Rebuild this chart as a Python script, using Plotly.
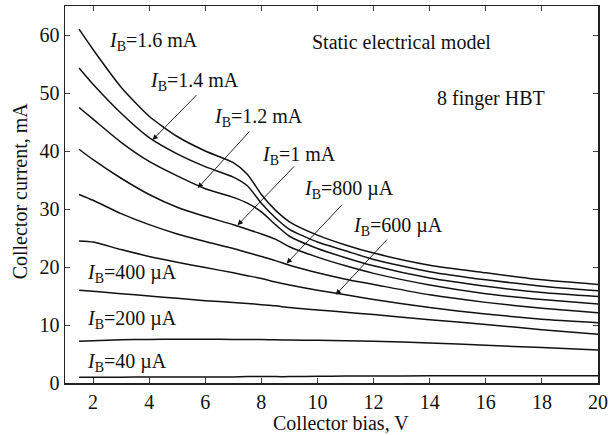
import plotly.graph_objects as go

# ---- data ----
vce = [1.5, 2, 3, 4, 5, 6, 7, 7.5, 8, 8.5, 9, 10, 11, 12, 14, 16, 18, 20]

ic_1600 = [61.0, 57.5, 51.0, 46.0, 42.5, 40.0, 38.0, 36.0, 32.5, 29.8, 27.8, 25.5, 23.8, 22.4, 20.3, 19.0, 17.8, 17.0]
ic_1400 = [54.3, 51.5, 46.5, 42.3, 39.5, 37.3, 35.5, 34.0, 31.0, 28.5, 26.5, 24.3, 22.8, 21.3, 19.2, 17.8, 16.7, 15.9]
ic_1200 = [47.5, 45.5, 41.5, 38.2, 35.7, 33.5, 32.0, 31.0, 29.5, 27.3, 25.3, 23.2, 21.6, 20.2, 18.1, 16.7, 15.6, 14.9]
ic_1000 = [40.3, 38.5, 35.3, 32.5, 30.3, 28.7, 27.3, 26.5, 25.7, 24.8, 23.5, 21.7, 20.2, 18.9, 16.9, 15.4, 14.4, 13.6]
ic_800 = [32.5, 31.5, 29.2, 27.3, 25.7, 24.4, 23.2, 22.5, 21.8, 21.1, 20.3, 19.0, 17.9, 17.0, 15.2, 13.9, 12.9, 12.1]
ic_600 = [24.5, 24.3, 23.0, 21.8, 20.8, 19.9, 19.0, 18.5, 18.0, 17.4, 16.9, 16.0, 15.2, 14.4, 13.0, 11.9, 11.0, 10.4]
ic_400 = [16.0, 15.8, 15.4, 15.0, 14.6, 14.2, 13.9, 13.7, 13.5, 13.3, 13.0, 12.6, 12.2, 11.8, 10.9, 10.1, 9.2, 8.4]
ic_200 = [7.2, 7.3, 7.45, 7.5, 7.55, 7.55, 7.5, 7.5, 7.5, 7.45, 7.4, 7.35, 7.3, 7.2, 6.9, 6.5, 6.1, 5.7]
ic_40 = [1.0, 1.0, 1.0, 1.05, 1.05, 1.05, 1.05, 1.1, 1.1, 1.1, 1.1, 1.15, 1.2, 1.2, 1.25, 1.25, 1.25, 1.25]

series = [ic_1600, ic_1400, ic_1200, ic_1000, ic_800, ic_600, ic_400, ic_200, ic_40]

x_ticks = [2, 4, 6, 8, 10, 12, 14, 16, 18, 20]
y_ticks = [0, 10, 20, 30, 40, 50, 60]

x_title = "Collector bias, V"
y_title = "Collector current, mA"

# labels: (text, x, y)
labels = [
    ("<i>I</i><sub>B</sub>=1.6 mA", 2.5, 58.8),
    ("<i>I</i><sub>B</sub>=1.4 mA", 3.95, 51.9),
    ("<i>I</i><sub>B</sub>=1.2 mA", 6.25, 45.7),
    ("<i>I</i><sub>B</sub>=1 mA", 7.95, 39.3),
    ("<i>I</i><sub>B</sub>=800 µA", 9.45, 33.4),
    ("<i>I</i><sub>B</sub>=600 µA", 11.2, 26.9),
    ("<i>I</i><sub>B</sub>=400 µA", 1.7, 18.8),
    ("<i>I</i><sub>B</sub>=200 µA", 1.7, 11.0),
    ("<i>I</i><sub>B</sub>=40 µA", 1.7, 3.6),
    ("Static electrical model", 9.75, 58.8),
    ("8 finger HBT", 14.2, 49.1),
]

# arrows: (head_x, head_y, tail_x, tail_y)
arrows = [
    (4.12, 41.9, 5.74, 49.9),
    (5.73, 33.6, 7.62, 43.6),
    (7.15, 27.2, 9.22, 37.6),
    (8.9, 20.6, 10.93, 31.0),
    (10.65, 15.2, 12.53, 25.0),
]

FONT = "Liberation Serif"
FS = 20
INK = "#111111"

fig = go.Figure()
for s in series:
    fig.add_trace(go.Scatter(x=vce, y=s, mode="lines",
                             line=dict(color=INK, width=1.5, shape="spline", smoothing=0.6),
                             showlegend=False, hoverinfo="skip"))

for t, x, y in labels:
    fig.add_annotation(x=x, y=y, text=t, showarrow=False, xanchor="left", yanchor="middle",
                       font=dict(family=FONT, size=FS, color=INK))

for hx, hy, tx, ty in arrows:
    fig.add_annotation(x=hx, y=hy, ax=tx, ay=ty, axref="x", ayref="y", text="", showarrow=True,
                       arrowhead=2, arrowsize=1.2, arrowwidth=0.9, arrowcolor=INK)

# axis titles as annotations for precise placement
fig.add_annotation(xref="paper", yref="paper", x=0.518, y=-0.106, text=x_title, showarrow=False,
                   xanchor="center", yanchor="middle", font=dict(family=FONT, size=FS, color=INK))
fig.add_annotation(xref="paper", yref="paper", x=-0.084, y=0.509, text=y_title, showarrow=False,
                   textangle=-90, xanchor="center", yanchor="middle", font=dict(family=FONT, size=FS, color=INK))

axis_common = dict(showline=True, linecolor="#222222", linewidth=1.5, mirror="ticks", ticks="inside",
                   ticklen=5, tickcolor="#444444", tickwidth=1, showgrid=False, zeroline=False,
                   automargin=False, tickfont=dict(family=FONT, size=FS, color=INK))

fig.update_xaxes(range=[1, 20], tickvals=x_ticks, ticktext=[str(v) for v in x_ticks], **axis_common)
fig.update_yaxes(range=[0, 65], tickvals=y_ticks, ticktext=[str(v) for v in y_ticks], **axis_common)

fig.update_layout(width=612, height=435, margin=dict(l=65, r=14, t=6, b=52),
                  plot_bgcolor="white", paper_bgcolor="white", showlegend=False)

fig.write_html("out.html", config={"displayModeBar": False, "staticPlot": True},
               post_script="document.body.style.margin='0';")
